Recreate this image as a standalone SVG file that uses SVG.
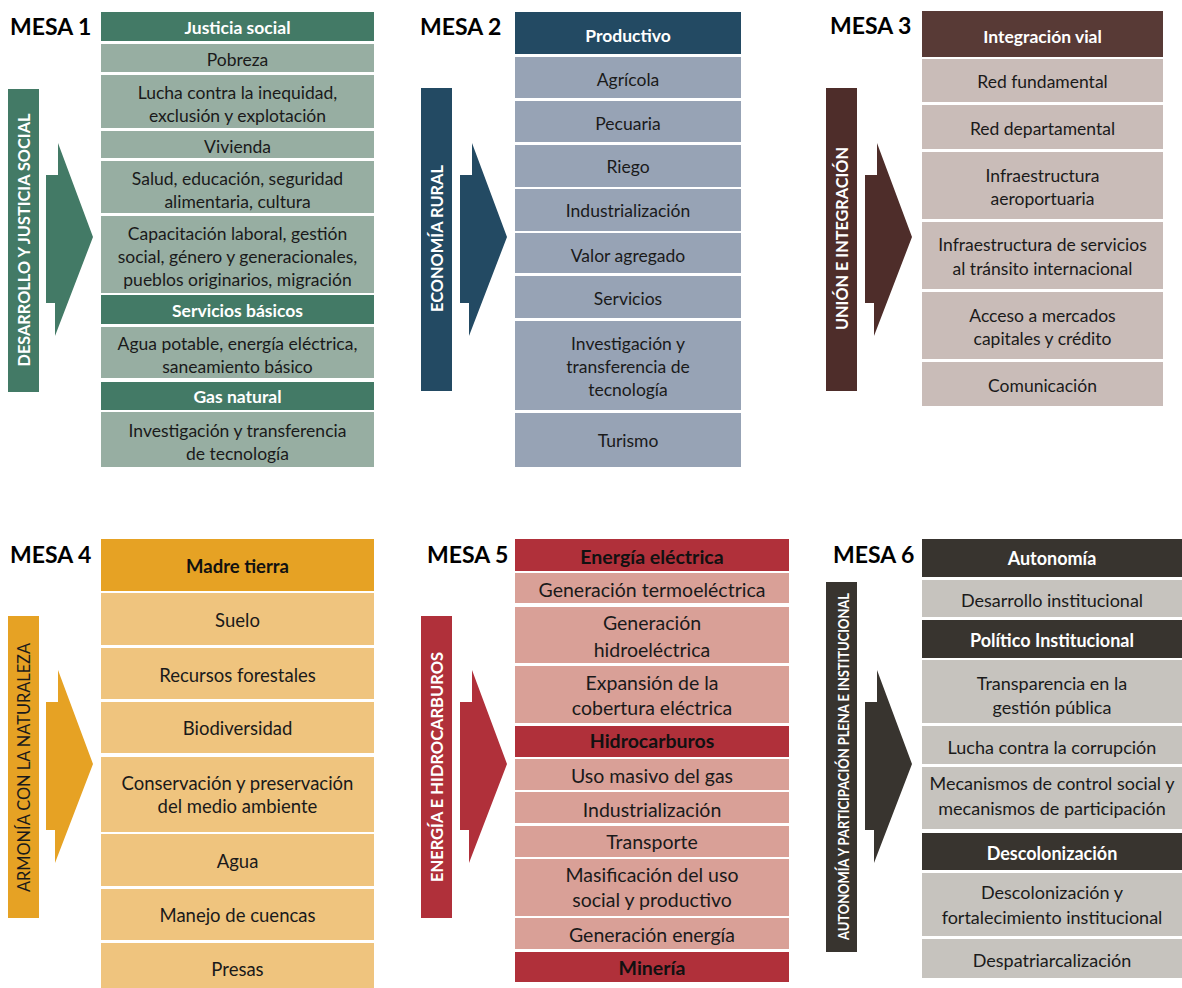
<svg xmlns="http://www.w3.org/2000/svg" width="1182" height="988" viewBox="0 0 1182 988">
<style>
text{font-family:Lato,"Liberation Sans",sans-serif;text-anchor:middle;fill:#1a1a1a}
.p1 text{font-size:17.5px}.p2 text{font-size:17.5px}.p3 text{font-size:17.5px}
.p4 text{font-size:18.5px}.p5 text{font-size:19.5px}.p6 text{font-size:18px}
svg text.mesa{font-size:23px;font-weight:700;text-anchor:start;fill:#000}
.h{font-weight:700;fill:#fff}
.hd{font-weight:700;fill:#111}
svg text.side{font-weight:700;fill:#fff;font-size:17px}
svg text.sided{font-weight:400;fill:#1a1a1a;font-size:17px}
svg text.small{font-size:15px}
</style>
<defs>
<polygon id="arr" points="46,175 58,175 58,143 93,237 55,336 55,303 46,303"/>
</defs>
<rect width="1182" height="988" fill="#fff"/>

<!-- MESA 1 -->
<g id="mesa1" class="p1">
<text class="mesa" x="10" y="35">MESA 1</text>
<rect x="8" y="89" width="31" height="303" fill="#437a66"/>
<text class="side" transform="translate(30,240) rotate(-90)" textLength="253" lengthAdjust="spacingAndGlyphs">DESARROLLO Y JUSTICIA SOCIAL</text>
<use href="#arr" fill="#437a66"/>
<g fill="#437a66">
<rect x="101" y="12" width="273" height="29"/>
<rect x="101" y="295" width="273" height="29"/>
<rect x="101" y="382" width="273" height="28"/>
</g>
<g fill="#97aea2">
<rect x="101" y="44" width="273" height="28"/>
<rect x="101" y="75" width="273" height="53"/>
<rect x="101" y="131" width="273" height="27"/>
<rect x="101" y="161" width="273" height="52"/>
<rect x="101" y="216" width="273" height="77"/>
<rect x="101" y="327" width="273" height="51"/>
<rect x="101" y="412" width="273" height="55"/>
</g>
<text class="h" x="237.5" y="34">Justicia social</text>
<text x="237.5" y="65.5">Pobreza</text>
<text x="237.5" y="99">Lucha contra la inequidad,</text>
<text x="237.5" y="122">exclusión y explotación</text>
<text x="237.5" y="153">Vivienda</text>
<text x="237.5" y="185">Salud, educación, seguridad</text>
<text x="237.5" y="208">alimentaria, cultura</text>
<text x="237.5" y="240">Capacitación laboral, gestión</text>
<text x="237.5" y="263">social, género y generacionales,</text>
<text x="237.5" y="286">pueblos originarios, migración</text>
<text class="h" x="237.5" y="317">Servicios básicos</text>
<text x="237.5" y="350">Agua potable, energía eléctrica,</text>
<text x="237.5" y="373">saneamiento básico</text>
<text class="h" x="237.5" y="403">Gas natural</text>
<text x="237.5" y="437">Investigación y transferencia</text>
<text x="237.5" y="460">de tecnología</text>
</g>

<!-- MESA 2 -->
<g id="mesa2" class="p2">
<text class="mesa" x="420" y="35">MESA 2</text>
<rect x="421" y="88" width="31" height="303" fill="#234a63"/>
<text class="side" transform="translate(443,238.5) rotate(-90)" textLength="147" lengthAdjust="spacingAndGlyphs">ECONOMÍA RURAL</text>
<use href="#arr" transform="translate(414,0)" fill="#234a63"/>
<rect x="515" y="12" width="226" height="42" fill="#234a63"/>
<g fill="#97a3b5">
<rect x="515" y="57" width="226" height="41"/>
<rect x="515" y="101" width="226" height="41"/>
<rect x="515" y="145" width="226" height="42"/>
<rect x="515" y="189" width="226" height="42"/>
<rect x="515" y="233" width="226" height="40"/>
<rect x="515" y="276" width="226" height="42"/>
<rect x="515" y="321" width="226" height="89"/>
<rect x="515" y="413" width="226" height="54"/>
</g>
<text class="h" x="628" y="42">Productivo</text>
<text x="628" y="86">Agrícola</text>
<text x="628" y="129.5">Pecuaria</text>
<text x="628" y="173">Riego</text>
<text x="628" y="217">Industrialización</text>
<text x="628" y="261.5">Valor agregado</text>
<text x="628" y="305">Servicios</text>
<text x="628" y="350">Investigación y</text>
<text x="628" y="373">transferencia de</text>
<text x="628" y="396">tecnología</text>
<text x="628" y="446.5">Turismo</text>
</g>

<!-- MESA 3 -->
<g id="mesa3" class="p3">
<text class="mesa" x="830" y="34">MESA 3</text>
<rect x="826" y="88" width="31" height="303" fill="#4e2d2a"/>
<text class="side" transform="translate(848,238.5) rotate(-90)" textLength="183" lengthAdjust="spacingAndGlyphs">UNIÓN E INTEGRACIÓN</text>
<use href="#arr" transform="translate(819,0)" fill="#4e2d2a"/>
<rect x="922" y="11" width="241" height="46" fill="#583a36"/>
<g fill="#c9bcb8">
<rect x="922" y="59" width="241" height="43"/>
<rect x="922" y="105" width="241" height="44"/>
<rect x="922" y="152" width="241" height="67"/>
<rect x="922" y="222" width="241" height="67"/>
<rect x="922" y="292" width="241" height="67"/>
<rect x="922" y="362" width="241" height="44"/>
</g>
<text class="h" x="1042.5" y="43">Integración vial</text>
<text x="1042.5" y="88">Red fundamental</text>
<text x="1042.5" y="134.5">Red departamental</text>
<text x="1042.5" y="182">Infraestructura</text>
<text x="1042.5" y="205">aeroportuaria</text>
<text x="1042.5" y="251">Infraestructura de servicios</text>
<text x="1042.5" y="275">al tránsito internacional</text>
<text x="1042.5" y="322">Acceso a mercados</text>
<text x="1042.5" y="345">capitales y crédito</text>
<text x="1042.5" y="391.5">Comunicación</text>
</g>

<!-- MESA 4 -->
<g id="mesa4" class="p4">
<text class="mesa" x="10" y="563">MESA 4</text>
<rect x="8" y="616" width="31" height="302" fill="#e6a224"/>
<text class="sided" transform="translate(30,767.5) rotate(-90)" textLength="249" lengthAdjust="spacingAndGlyphs">ARMONÍA CON LA NATURALEZA</text>
<use href="#arr" transform="translate(0,527)" fill="#e6a224"/>
<rect x="101" y="539" width="273" height="52" fill="#e6a224"/>
<g fill="#efc47e">
<rect x="101" y="593" width="273" height="52"/>
<rect x="101" y="648" width="273" height="51"/>
<rect x="101" y="702" width="273" height="51"/>
<rect x="101" y="757" width="273" height="75"/>
<rect x="101" y="834" width="273" height="52"/>
<rect x="101" y="889" width="273" height="51"/>
<rect x="101" y="943" width="273" height="45"/>
</g>
<text class="hd" x="237.5" y="573">Madre tierra</text>
<text x="237.5" y="627">Suelo</text>
<text x="237.5" y="682">Recursos forestales</text>
<text x="237.5" y="735">Biodiversidad</text>
<text x="237.5" y="790">Conservación y preservación</text>
<text x="237.5" y="813">del medio ambiente</text>
<text x="237.5" y="868">Agua</text>
<text x="237.5" y="922">Manejo de cuencas</text>
<text x="237.5" y="976">Presas</text>
</g>

<!-- MESA 5 -->
<g id="mesa5" class="p5">
<text class="mesa" x="427" y="563">MESA 5</text>
<rect x="421" y="616" width="31" height="302" fill="#b0303a"/>
<text class="side" transform="translate(443,767) rotate(-90)" textLength="230" lengthAdjust="spacingAndGlyphs">ENERGÍA E HIDROCARBUROS</text>
<use href="#arr" transform="translate(414,527)" fill="#b0303a"/>
<g fill="#b0303a">
<rect x="515" y="539" width="274" height="32"/>
<rect x="515" y="726" width="274" height="31"/>
<rect x="515" y="952" width="274" height="30"/>
</g>
<g fill="#d9a097">
<rect x="515" y="573" width="274" height="30"/>
<rect x="515" y="607" width="274" height="56"/>
<rect x="515" y="666" width="274" height="57"/>
<rect x="515" y="759" width="274" height="31"/>
<rect x="515" y="792" width="274" height="31"/>
<rect x="515" y="826" width="274" height="31"/>
<rect x="515" y="859" width="274" height="57"/>
<rect x="515" y="918" width="274" height="31"/>
</g>
<text class="hd" x="652" y="564">Energía eléctrica</text>
<text x="652" y="597">Generación termoeléctrica</text>
<text x="652" y="630">Generación</text>
<text x="652" y="657">hidroeléctrica</text>
<text x="652" y="690">Expansión de la</text>
<text x="652" y="715">cobertura eléctrica</text>
<text class="hd" x="652" y="748">Hidrocarburos</text>
<text x="652" y="783">Uso masivo del gas</text>
<text x="652" y="817">Industrialización</text>
<text x="652" y="849">Transporte</text>
<text x="652" y="882">Masificación del uso</text>
<text x="652" y="907">social y productivo</text>
<text x="652" y="942">Generación energía</text>
<text class="hd" x="652" y="975">Minería</text>
</g>

<!-- MESA 6 -->
<g id="mesa6" class="p6">
<text class="mesa" x="833" y="563">MESA 6</text>
<rect x="826" y="582" width="31" height="370" fill="#38342f"/>
<text class="side small" transform="translate(849,766.5) rotate(-90)" textLength="347" lengthAdjust="spacingAndGlyphs">AUTONOMÍA Y PARTICIPACIÓN PLENA E INSTITUCIONAL</text>
<use href="#arr" transform="translate(819,527)" fill="#38342f"/>
<g fill="#38342f">
<rect x="922" y="539" width="260" height="38"/>
<rect x="922" y="620" width="260" height="38"/>
<rect x="922" y="833" width="260" height="37"/>
</g>
<g fill="#c6c3be">
<rect x="922" y="580" width="260" height="37"/>
<rect x="922" y="660" width="260" height="63"/>
<rect x="922" y="726" width="260" height="38"/>
<rect x="922" y="767" width="260" height="62"/>
<rect x="922" y="873" width="260" height="63"/>
<rect x="922" y="939" width="260" height="39"/>
</g>
<text class="h" x="1052" y="565">Autonomía</text>
<text x="1052" y="607">Desarrollo institucional</text>
<text class="h" x="1052" y="647">Político Institucional</text>
<text x="1052" y="690">Transparencia en la</text>
<text x="1052" y="714">gestión pública</text>
<text x="1052" y="754">Lucha contra la corrupción</text>
<text x="1052" y="790">Mecanismos de control social y</text>
<text x="1052" y="815">mecanismos de participación</text>
<text class="h" x="1052" y="860">Descolonización</text>
<text x="1052" y="899">Descolonización y</text>
<text x="1052" y="924">fortalecimiento institucional</text>
<text x="1052" y="967">Despatriarcalización</text>
</g>
<g id="connectors"/>
</svg>
